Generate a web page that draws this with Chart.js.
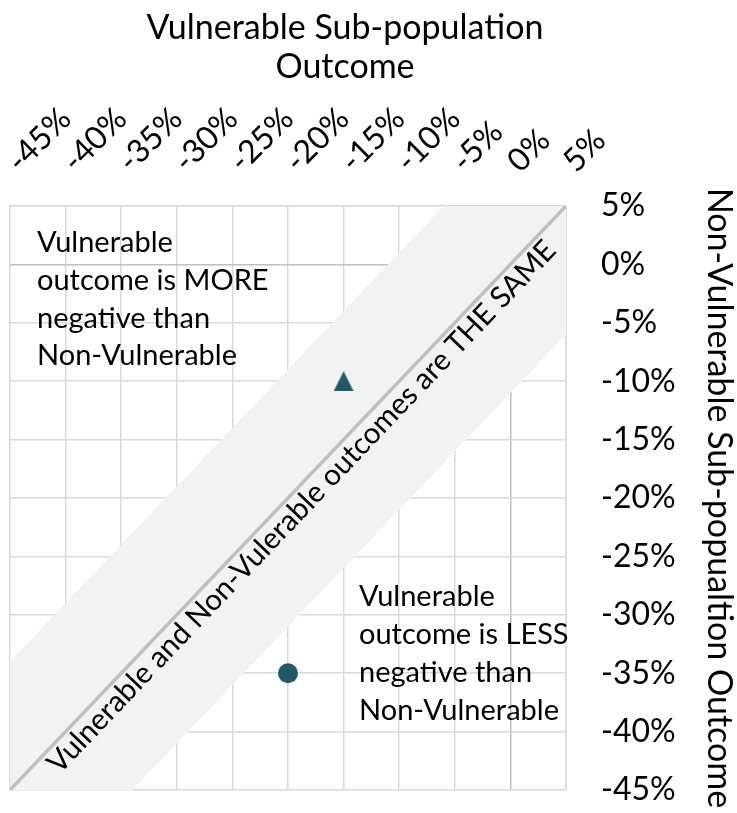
<!DOCTYPE html>
<html>
<head>
<meta charset="utf-8">
<script src="https://cdn.jsdelivr.net/npm/chart.js@4/dist/chart.umd.min.js"></script>
<style>
  html, body { margin: 0; padding: 0; background: #ffffff; }
  canvas { display: block; }
</style>
</head>
<body>
<canvas id="chart" width="737" height="813"></canvas>
<script>
// ---- data ----
const xTickValues = [-45, -40, -35, -30, -25, -20, -15, -10, -5, 0, 5];
const yTickValues = [-45, -40, -35, -30, -25, -20, -15, -10, -5, 0, 5];
const vulnerableOutcome = [-15, -20];      // x (%)
const nonVulnerableOutcome = [-10, -35];   // y (%)
const markerShapes = ['triangle', 'circle'];
const diagonalLine = [{x: -45, y: -45}, {x: 5, y: 5}];
const bandUpperEdge = [{x: -45, y: -34}, {x: -6, y: 5}];
const bandLowerEdge = [{x: 5, y: -6}, {x: -34, y: -45}];
const xAxisTitle = ['Vulnerable Sub-population', 'Outcome'];
const yAxisTitle = 'Non-Vulnerable Sub-popualtion Outcome';
const diagonalText = 'Vulnerable and Non-Vulerable outcomes are THE SAME';
const moreNegativeText = ['Vulnerable', 'outcome is MORE', 'negative than', 'Non-Vulnerable'];
const lessNegativeText = ['Vulnerable', 'outcome is LESS', 'negative than', 'Non-Vulnerable'];

const FONT = 'Lato';
const MARK = '#215968';
const GRID = '#d9d9d9';
const ZERO = '#bfbfbf';

// isoceles triangle marker (same width and height, like the reference)
const tri = document.createElement('canvas');
tri.width = 20; tri.height = 20;
(function () {
  const c = tri.getContext('2d');
  c.fillStyle = MARK;
  c.beginPath(); c.moveTo(10, 0); c.lineTo(20, 20); c.lineTo(0, 20); c.closePath(); c.fill();
})();

const points = vulnerableOutcome.map((v, i) => ({x: v, y: nonVulnerableOutcome[i]}));

const decor = {
  id: 'decor',
  beforeDatasetsDraw(chart) {
    const {ctx, scales: {x, y}, chartArea} = chart;
    const P = p => [x.getPixelForValue(p.x), y.getPixelForValue(p.y)];
    const poly = [bandUpperEdge[0], bandUpperEdge[1], diagonalLine[1], bandLowerEdge[0], bandLowerEdge[1], diagonalLine[0]].map(P);
    ctx.save();
    ctx.beginPath();
    ctx.rect(chartArea.left, chartArea.top, chartArea.right - chartArea.left, chartArea.bottom - chartArea.top);
    ctx.clip();
    ctx.fillStyle = '#f2f2f2';
    ctx.beginPath();
    poly.forEach((p, i) => i ? ctx.lineTo(p[0], p[1]) : ctx.moveTo(p[0], p[1]));
    ctx.closePath();
    ctx.fill();
    ctx.restore();
  },
  afterDatasetsDraw(chart) {
    const {ctx, scales: {x, y}, chartArea} = chart;
    ctx.save();
    ctx.fillStyle = '#000';
    // diagonal label
    const a = [x.getPixelForValue(diagonalLine[0].x), y.getPixelForValue(diagonalLine[0].y)];
    const b = [x.getPixelForValue(diagonalLine[1].x), y.getPixelForValue(diagonalLine[1].y)];
    const ang = Math.atan2(b[1] - a[1], b[0] - a[0]);
    const len = Math.hypot(b[0] - a[0], b[1] - a[1]);
    const ux = (b[0] - a[0]) / len, uy = (b[1] - a[1]) / len;
    const nx = -uy, ny = ux; // normal toward lower-right
    const cx = (a[0] + b[0]) / 2 + ux * 3 + nx * 16;
    const cy = (a[1] + b[1]) / 2 + uy * 3 + ny * 16;
    ctx.translate(cx, cy);
    ctx.rotate(ang);
    ctx.font = '29.5px ' + FONT;
    ctx.textAlign = 'center';
    ctx.textBaseline = 'middle';
    ctx.fillText(diagonalText, 0, 0);
    ctx.restore();

    ctx.save();
    ctx.fillStyle = '#000';
    ctx.font = '29px ' + FONT;
    ctx.textAlign = 'left';
    ctx.textBaseline = 'alphabetic';
    moreNegativeText.forEach((t, i) => ctx.fillText(t, chartArea.left + 27, chartArea.top + 46 + i * 37.8));
    lessNegativeText.forEach((t, i) => ctx.fillText(t, chartArea.left + 349, chartArea.top + 400 + i * 38));
    ctx.restore();
  },
  afterDraw(chart) {
    const {ctx, chartArea} = chart;
    ctx.save();
    ctx.fillStyle = '#000';
    ctx.font = '34px ' + FONT;
    ctx.textAlign = 'center';
    ctx.textBaseline = 'alphabetic';
    xAxisTitle.forEach((t, i) => ctx.fillText(t, chartArea.left + 335, 39 + i * 39));
    ctx.restore();
  }
};

const gridColor = c => (c.tick && c.tick.value === 0 ? ZERO : GRID);

new Chart(document.getElementById('chart'), {
  type: 'scatter',
  data: {
    datasets: [
      {
        label: 'Outcomes',
        data: points,
        pointStyle: markerShapes.map(s => s === 'triangle' ? tri : s),
        pointRadius: 10,
        pointHoverRadius: 10,
        backgroundColor: MARK,
        borderColor: MARK,
        borderWidth: 0,
        order: 0
      },
      {
        label: 'Same',
        data: diagonalLine,
        showLine: true,
        borderColor: '#bfbfbf',
        borderWidth: 3.5,
        pointRadius: 0,
        order: 1
      }
    ]
  },
  options: {
    responsive: false,
    animation: false,
    devicePixelRatio: 1,
    layout: {padding: {left: 10, right: 0, top: 0, bottom: 23}},
    plugins: {legend: {display: false}, tooltip: {enabled: false}},
    scales: {
      x: {
        type: 'linear',
        position: 'top',
        min: -45, max: 5,
        afterBuildTicks: s => { s.ticks = xTickValues.map(v => ({value: v})); },
        ticks: {
          autoSkip: false,
          minRotation: 45, maxRotation: 45,
          padding: 26,
          labelOffset: 30,
          color: '#000',
          font: {family: FONT, size: 32},
          callback: v => v + '%'
        },
        grid: {color: gridColor, lineWidth: 1.5, drawTicks: false},
        border: {color: GRID, width: 1.5},
        afterFit: s => { s.height = 206; s.paddingLeft = 0; s.paddingRight = 0; }
      },
      y: {
        type: 'linear',
        position: 'right',
        min: -45, max: 5,
        afterBuildTicks: s => { s.ticks = yTickValues.map(v => ({value: v})); },
        ticks: {
          padding: 35,
          crossAlign: 'near',
          color: '#000',
          font: {family: FONT, size: 32},
          callback: v => v + '%'
        },
        grid: {color: gridColor, lineWidth: 1.5, drawTicks: false},
        border: {color: GRID, width: 1.5},
        title: {
          display: true,
          text: yAxisTitle,
          color: '#000',
          font: {family: FONT, size: 34, lineHeight: 1},
          padding: {top: 1, bottom: 0}
        },
        afterFit: s => { s.width = 171; s.paddingTop = 0; s.paddingBottom = 0; }
      }
    }
  },
  plugins: [decor]
});
</script>
</body>
</html>
